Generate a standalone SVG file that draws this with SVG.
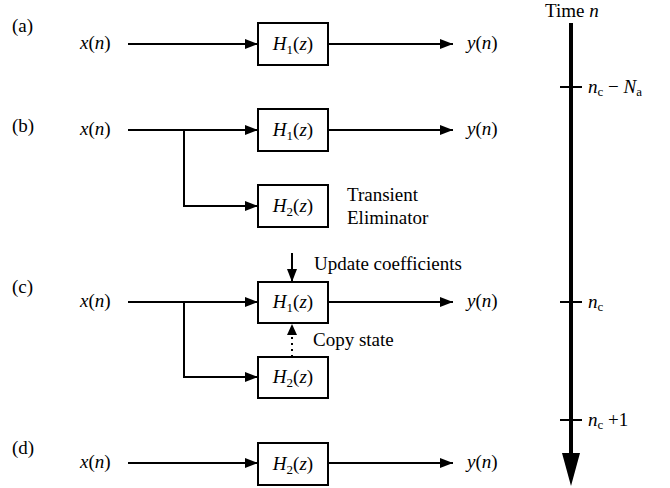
<svg xmlns="http://www.w3.org/2000/svg" width="670" height="488" viewBox="0 0 670 488">
<style>
text{font-family:"Liberation Serif","Times New Roman",serif;font-size:19px;fill:#000}
.i{font-style:italic}
.s{font-size:13px}
.box{fill:#fff;stroke:#000;stroke-width:2}
.ln{fill:none;stroke:#000;stroke-width:2}
.dot{fill:none;stroke:#000;stroke-width:2;stroke-dasharray:2,4}
.ax{fill:none;stroke:#000;stroke-width:4}
.tk{fill:none;stroke:#000;stroke-width:2}
</style>
<defs>
<marker id="ah" markerUnits="userSpaceOnUse" markerWidth="14" markerHeight="10" refX="13" refY="5" orient="auto">
<path d="M0,0 L13,5 L0,10 Z" fill="#000"/>
</marker>
</defs>
<g id="labels">
<text x="12" y="32">(a)</text>
<text x="12" y="132">(b)</text>
<text x="12" y="293">(c)</text>
<text x="12" y="454">(d)</text>
</g>
<g id="connectors">
<line class="ln" x1="128" y1="44" x2="258" y2="44" marker-end="url(#ah)"/>
<line class="ln" x1="328" y1="44" x2="453" y2="44" marker-end="url(#ah)"/>
<line class="ln" x1="128" y1="130" x2="258" y2="130" marker-end="url(#ah)"/>
<line class="ln" x1="328" y1="130" x2="453" y2="130" marker-end="url(#ah)"/>
<polyline class="ln" points="184,130 184,206 258,206" marker-end="url(#ah)"/>
<line class="ln" x1="128" y1="302" x2="258" y2="302" marker-end="url(#ah)"/>
<line class="ln" x1="328" y1="302" x2="453" y2="302" marker-end="url(#ah)"/>
<polyline class="ln" points="184,302 184,377 258,377" marker-end="url(#ah)"/>
<line class="ln" x1="292" y1="253" x2="292" y2="282" marker-end="url(#ah)"/>
<line class="dot" x1="292" y1="357" x2="292" y2="335"/>
<path d="M287,335 L292,324 L297,335 Z" fill="#000"/>
<line class="ln" x1="128" y1="463" x2="258" y2="463" marker-end="url(#ah)"/>
<line class="ln" x1="328" y1="463" x2="453" y2="463" marker-end="url(#ah)"/>
</g>
<g id="inputs">
<text x="80" y="49"><tspan class="i">x</tspan>(<tspan class="i">n</tspan>)</text>
<text x="80" y="135"><tspan class="i">x</tspan>(<tspan class="i">n</tspan>)</text>
<text x="80" y="307"><tspan class="i">x</tspan>(<tspan class="i">n</tspan>)</text>
<text x="80" y="468"><tspan class="i">x</tspan>(<tspan class="i">n</tspan>)</text>
</g>
<g id="outputs">
<text x="467" y="49"><tspan class="i">y</tspan>(<tspan class="i">n</tspan>)</text>
<text x="467" y="135"><tspan class="i">y</tspan>(<tspan class="i">n</tspan>)</text>
<text x="467" y="307"><tspan class="i">y</tspan>(<tspan class="i">n</tspan>)</text>
<text x="467" y="468"><tspan class="i">y</tspan>(<tspan class="i">n</tspan>)</text>
</g>
<g id="box-a-h1">
<rect class="box" x="258" y="23" width="70" height="42"/>
<text x="293" y="50" text-anchor="middle"><tspan class="i">H</tspan><tspan class="s" dy="4">1</tspan><tspan dy="-4">(</tspan><tspan class="i">z</tspan>)</text>
</g>
<g id="box-b-h1">
<rect class="box" x="258" y="109" width="70" height="42"/>
<text x="293" y="136" text-anchor="middle"><tspan class="i">H</tspan><tspan class="s" dy="4">1</tspan><tspan dy="-4">(</tspan><tspan class="i">z</tspan>)</text>
</g>
<g id="box-b-h2">
<rect class="box" x="258" y="185" width="70" height="42"/>
<text x="293" y="212" text-anchor="middle"><tspan class="i">H</tspan><tspan class="s" dy="4">2</tspan><tspan dy="-4">(</tspan><tspan class="i">z</tspan>)</text>
</g>
<g id="transient-label">
<text x="347" y="201">Transient</text>
<text x="347" y="224">Eliminator</text>
</g>
<g id="box-c-h1">
<rect class="box" x="258" y="282" width="70" height="41"/>
<text x="293" y="308" text-anchor="middle"><tspan class="i">H</tspan><tspan class="s" dy="4">1</tspan><tspan dy="-4">(</tspan><tspan class="i">z</tspan>)</text>
</g>
<g id="box-c-h2">
<rect class="box" x="258" y="357" width="70" height="41"/>
<text x="293" y="383" text-anchor="middle"><tspan class="i">H</tspan><tspan class="s" dy="4">2</tspan><tspan dy="-4">(</tspan><tspan class="i">z</tspan>)</text>
</g>
<g id="update-label"><text x="314" y="270">Update coefficients</text></g>
<g id="copy-label"><text x="313" y="346">Copy state</text></g>
<g id="box-d-h2">
<rect class="box" x="258" y="443" width="70" height="42"/>
<text x="293" y="470" text-anchor="middle"><tspan class="i">H</tspan><tspan class="s" dy="4">2</tspan><tspan dy="-4">(</tspan><tspan class="i">z</tspan>)</text>
</g>
<g id="time-axis">
<text x="545" y="17">Time <tspan class="i">n</tspan></text>
<line class="ax" x1="571" y1="23" x2="571" y2="455"/>
<path d="M562,453 L580,453 L571,486 Z" fill="#000"/>
<line class="tk" x1="560" y1="87" x2="582" y2="87"/>
<line class="tk" x1="560" y1="302" x2="582" y2="302"/>
<line class="tk" x1="560" y1="420" x2="582" y2="420"/>
<text x="588" y="93"><tspan class="i">n</tspan><tspan class="s" dy="3">c</tspan><tspan dy="-3"> − </tspan><tspan class="i">N</tspan><tspan class="s" dy="3">a</tspan></text>
<text x="588" y="308"><tspan class="i">n</tspan><tspan class="s" dy="3">c</tspan></text>
<text x="588" y="426"><tspan class="i">n</tspan><tspan class="s" dy="3">c</tspan><tspan dy="-3"> +1</tspan></text>
</g>
</svg>
